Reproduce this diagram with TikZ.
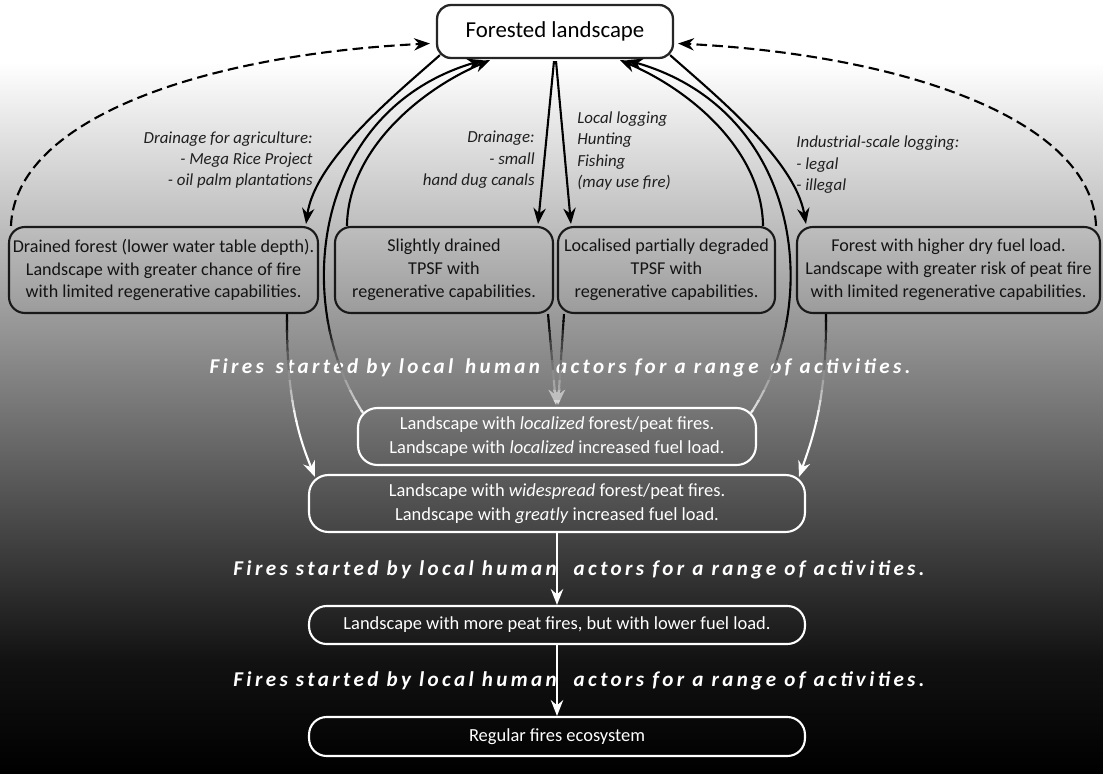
\documentclass[tikz,border=0pt]{standalone}
\usepackage{fontspec}
\setmainfont{Carlito}
\newfontfamily\widefont[LetterSpace=16]{Carlito}
\usepackage{tikz}
\usetikzlibrary{arrows.meta,calc}

\tikzset{
  topbox/.style={draw=black!85, line width=1.3pt, fill=white, rounded corners=8pt,
    inner sep=0pt, minimum width=4.72cm, minimum height=1.06cm,
    font=\fontsize{13}{15}\selectfont},
  midbox/.style={draw=black!90, line width=1.2pt, rounded corners=9pt, inner sep=0pt,
    minimum height=1.72cm, align=center, text=black!92,
    font=\fontsize{10.3}{13}\selectfont},
  lowbox/.style={draw=white, line width=1.2pt, rounded corners=11pt, inner sep=0pt,
    minimum width=9.92cm, align=center, text=white,
    font=\fontsize{10.5}{13.5}\selectfont},
  note/.style={inner sep=0pt, text=black!88, font=\fontsize{9.6}{12.2}\selectfont\itshape},
  fireline/.style={inner sep=0pt, text=white,
    font=\widefont\fontsize{12}{14}\selectfont\bfseries\itshape},
  link/.style={line width=1.2pt, -{Stealth[length=9pt,width=7pt]}},
  backlink/.style={link, dash pattern=on 6pt off 3pt},
}

% the links that run down through the fire band
\newcommand{\firelinks}[1]{%
  \draw[link,#1] ($(drained.south east)+(-32,0)$) .. controls (286,400) and (300,440) .. ($(widefire.north west)+(7,3)$);
  \draw[link,#1] ($(dryfuel.south west)+(30,0)$) .. controls (827,400) and (812,440) .. ($(widefire.north east)+(-7,3)$);
  \draw[link,#1] ($(slight.south east)+(-6,0)$) -- ($(localfire.north)+(-1,-2)$);
  \draw[link,#1] ($(partial.south west)+(7,0)$) -- ($(localfire.north)+(1,-2)$);
  \draw[link,#1] ($(localfire.north west)+(6,6)$) .. controls (290,300) and (315,110) .. ($(forest.south)+(-72,1)$);
  \draw[link,#1] ($(localfire.north east)+(-6,6)$) .. controls (825,300) and (800,110) .. ($(forest.south)+(72,1)$);
}

\begin{document}
\begin{tikzpicture}[x=0.02cm, y=-0.02cm]
  % backdrop
  \useasboundingbox (0,0) rectangle (1103,774);
  \fill[white] (0,0) rectangle (1103,774);
  \shade[top color=white, bottom color=black!93] (0,62) rectangle (1103,660);
  \shade[top color=black!93, bottom color=black] (0,659) rectangle (1103,774);

  \node[topbox] (forest) at (555,31.5) {Forested landscape};

  \node[midbox, minimum width=6.18cm] (drained) at (163.5,270)
    {Drained forest (lower water table depth).\\Landscape with greater chance of fire\\with limited regenerative capabilities.};
  \node[midbox, minimum width=4.36cm] (slight) at (444,270)
    {Slightly drained\\TPSF with\\regenerative capabilities.};
  \node[midbox, minimum width=4.34cm] (partial) at (666.5,270)
    {Localised partially degraded\\TPSF with\\regenerative capabilities.};
  \node[midbox, minimum width=6.06cm] (dryfuel) at (948.5,270)
    {Forest with higher dry fuel load.\\Landscape with greater risk of peat fire\\with limited regenerative capabilities.};

  \node[lowbox, minimum width=7.96cm, minimum height=1.14cm] (localfire) at (557,436.5)
    {Landscape with \textit{localized} forest/peat fires.\\Landscape with \textit{localized} increased fuel load.};
  \node[lowbox, minimum height=1.14cm] (widefire) at (557,503.5)
    {Landscape with \textit{widespread} forest/peat fires.\\Landscape with \textit{greatly} increased fuel load.};
  \node[lowbox, minimum height=0.76cm, rounded corners=10pt] (peatfire) at (557,625)
    {Landscape with more peat fires, but with lower fuel load.};
  \node[lowbox, minimum height=0.78cm, rounded corners=10pt] (regular) at (557,736.5)
    {Regular fires ecosystem};

  \node[note, anchor=east, align=right] (agri) at (313,160)
    {Drainage for agriculture:\\- Mega Rice Project\\- oil palm plantations};
  \node[note, anchor=east, align=right] (canal) at (535,160)
    {Drainage:\\- small\\hand dug canals};
  \node[note, anchor=west, align=left] (local) at (577,151)
    {Local logging\\Hunting\\Fishing\\(may use fire)};
  \node[note, anchor=west, align=left] (industry) at (796,165)
    {Industrial-scale logging:\\- legal\\- illegal};

  \node[fireline] (fires1) at (560,368)
    {Fires\hspace{2pt} started by local\hspace{2pt} human\hspace{4.5pt} actors for a range\hspace{2pt} of activities.};
  \node[fireline] (fires2) at (579,570)
    {Fires started by local human\hspace{5pt} actors for a range of activities.};
  \node[fireline] (fires3) at (579,681)
    {Fires started by local human\hspace{5pt} actors for a range of activities.};

  % back to the forest
  \draw[backlink] ($(drained.north west)+(3,0)$) .. controls (15,120) and (200,55) .. ($(forest.west)+(-6,12)$);
  \draw[backlink] ($(dryfuel.north east)+(-5,0)$) .. controls (1092,120) and (905,55) .. ($(forest.east)+(4,12)$);
  \draw[link] ($(slight.north west)+(13,0)$) .. controls (348,150) and (420,90) .. ($(forest.south)+(-65,1)$);
  \draw[link] ($(partial.north east)+(-13,0)$) .. controls (762,150) and (690,90) .. ($(forest.south)+(65,1)$);

  % forest to the four states
  \draw[link] ($(forest.south west)+(4,-4)$) .. controls (395,95) and (315,160) .. ($(drained.north east)+(-13,-2)$);
  \draw[link] ($(forest.south east)+(-4,-4)$) .. controls (715,95) and (795,160) .. ($(dryfuel.north west)+(10,-2)$);
  \draw[link] ($(forest.south)+(-1,2)$) -- ($(slight.north east)+(-16,-2)$);
  \draw[link] ($(forest.south)+(1,2)$) -- ($(partial.north west)+(14,-2)$);

  % fading from black to white
  \begin{scope}
    \clip (0,0) rectangle (1103,321);
    \firelinks{black}
  \end{scope}
  \foreach \i in {0,...,9}
  {
    \pgfmathtruncatemacro{\tint}{10*\i+5}
    \begin{scope}
      \clip (0,320+10*\i) rectangle (1103,331+10*\i);
      \firelinks{white!\tint!black}
    \end{scope}
  }
  \begin{scope}
    \clip (0,420) rectangle (1103,774);
    \firelinks{white}
  \end{scope}

  \draw[link, white] (widefire.south) -- (peatfire.north);
  \draw[link, white] (peatfire.south) -- (regular.north);
\end{tikzpicture}
\end{document}
